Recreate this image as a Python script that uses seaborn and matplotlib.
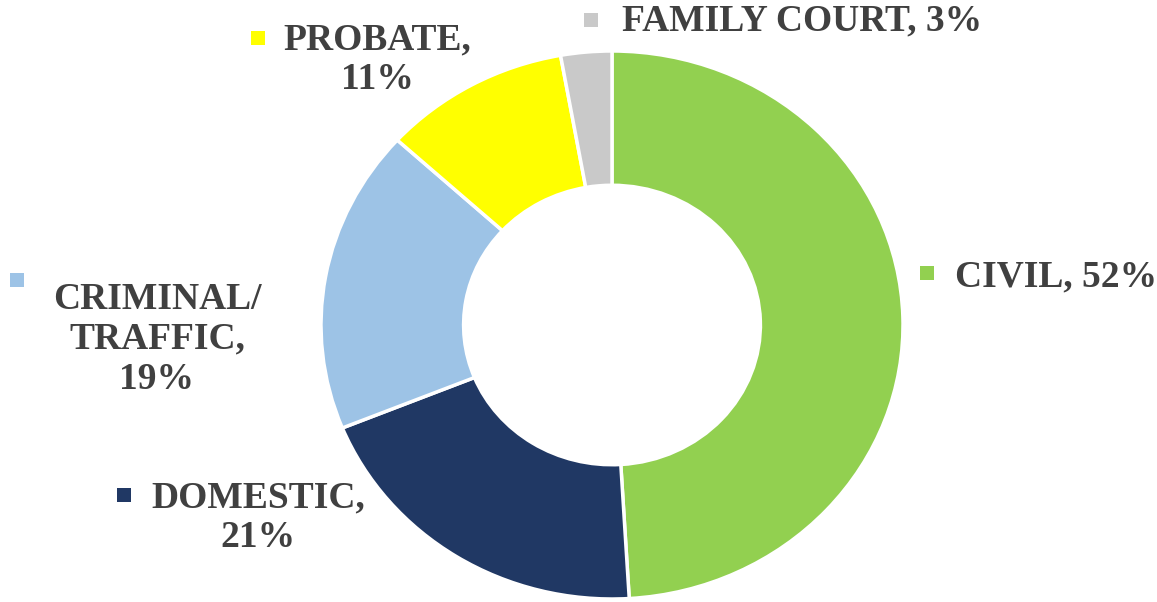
import matplotlib
matplotlib.use("Agg")
import matplotlib.pyplot as plt
import seaborn as sns

categories = ["CIVIL", "DOMESTIC", "CRIMINAL/\nTRAFFIC", "PROBATE", "FAMILY COURT"]
values = [52, 21, 19, 11, 3]
pct_labels = ["52%", "21%", "19%", "11%", "3%"]
colors = ["#92D050", "#203864", "#9DC3E6", "#FFFF00", "#C9C9C9"]

sns.set_theme(style="white")
plt.rcParams['font.family'] = ['Liberation Serif', 'DejaVu Serif']

W, H = 1157, 602
CX, CY, RX, RY = 612, 325, 291, 274
fig = plt.figure(figsize=(W / 100, H / 100), dpi=100)
ax = fig.add_axes([0, 0, 1, 1])

ax.pie(values, colors=colors, startangle=90, counterclock=False,
       center=(0, 0), radius=1, frame=True,
       wedgeprops=dict(width=0.49, edgecolor="white", linewidth=2.5))
ax.set_aspect("auto")
ax.set_xlim(-CX / RX, (W - CX) / RX)
ax.set_ylim(-(H - CY) / RY, CY / RY)
ax.axis("off")

txt = "#404040"
fs = 27

def label(text, tx, ty, kx, ky, color, ha="center"):
    fig.text(tx / W, 1 - ty / H, text, ha=ha, va="top", fontsize=fs,
             fontweight="bold", color=txt, linespacing=1.18)
    fig.add_artist(plt.Rectangle(((kx - 7) / W, 1 - (ky + 7) / H), 14 / W, 14 / H,
                                 transform=fig.transFigure, color=color, lw=0))

label(f"{categories[4]}, {pct_labels[4]}", 622, 3, 591, 20, colors[4], ha="left")
label(f"{categories[3]},\n{pct_labels[3]}", 377, 22, 258, 38, colors[3])
label(f"{categories[0]}, {pct_labels[0]}", 955, 259, 927, 273, colors[0], ha="left")
label(f"{categories[2]},\n{pct_labels[2]}", 157, 282, 17, 280, colors[2])
label(f"{categories[1]},\n{pct_labels[1]}", 258, 480, 124, 495, colors[1])

fig.savefig("out.png", dpi=100)
